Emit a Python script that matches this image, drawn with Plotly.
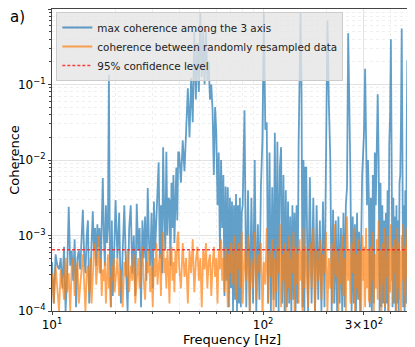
import numpy as np
import plotly.graph_objects as go

# frequency bands (Hz); each band holds 50 bins
bands = [(10, 20), (20, 40), (40, 80), (80, 160), (160, 320), (320, 500)]

# log10 of max coherence among the 3 axis, one list per band
blue_10_20 = [-3.35, -3.9, -3.25, -3.4, -3.45, -3.3, -3.7, -3.15, -4.0, -3.5,
              -2.62, -3.4, -3.2, -3.6, -3.05, -3.95, -3.3, -3.2, -3.45, -3.1,
              -2.66, -3.25, -3.5, -3.0, -2.8, -3.9, -3.6, -3.1, -2.68, -3.2,
              -2.9, -3.4, -2.85, -3.15, -2.9, -3.5, -2.95, -2.24, -3.0, -3.4,
              -2.6, -3.1, -2.9, -0.87, -3.3, -3.95, -2.8, -3.8, -3.45, -2.95]
blue_20_40 = [-2.53, -3.3, -2.7, -3.9, -3.1, -2.6, -3.4, -4.0, -2.9, -2.6,
              -3.5, -3.0, -3.8, -2.58, -3.2, -2.9, -3.95, -2.8, -3.3, -2.75,
              -3.6, -2.37, -3.1, -3.4, -2.7, -3.7, -2.55, -3.2, -2.8, -2.45,
              -2.03, -3.3, -2.6, -3.5, -1.83, -2.7, -3.2, -1.89, -3.0, -2.5,
              -2.53, -3.4, -2.3, -2.9, -2.2, -3.1, -2.35, -2.1, -2.8, -1.9]
blue_40_80 = [-1.9, -2.3, -1.74, -2.15, -1.6, -1.05, -1.7, -0.91, -1.5, -0.3,
              -1.2, -0.45, -1.1, -0.05, -0.9, -0.3, -1.0, -0.28, -0.94, -0.7,
              -1.2, -1.0, -1.34, -2.2, -1.3, -1.64, -2.6, -1.9, -3.2, -2.0,
              -2.9, -2.2, -3.8, -2.35, -3.6, -2.36, -3.95, -2.5, -3.7, -2.55,
              -4.0, -2.6, -3.85, -2.45, -4.0, -2.6, -3.9, -2.5, -3.95, -2.7]
blue_80_160 = [-2.6, -1.34, -3.95, -2.4, -4.0, -2.5, -3.9, -2.0, -4.0, -2.85,
               -3.85, -2.35, -1.74, -0.04, -1.6, -1.5, -3.9, -1.9, -4.0, -2.36,
               -3.85, -1.64, -3.95, -1.76, -4.0, -2.1, -1.83, -3.9, -2.2, -4.0,
               -2.4, -3.95, -2.55, -3.9, -2.75, -4.0, -2.6, -3.85, -2.7, -4.0,
               -2.6, -3.9, -1.8, -0.94, -0.05, -1.1, -3.95, -2.0, -4.0, -2.1]
blue_160_320 = [-2.1, -4.0, -2.23, -3.9, -2.5, -4.0, -2.6, -3.85, -2.8, -4.0,
                -2.55, -3.95, -2.3, -0.15, -1.25, -2.0, -4.0, -2.66, -3.9, -2.8,
                -4.0, -2.75, -3.9, -2.9, -4.0, -2.7, -3.95, -2.6, -2.36, -0.32,
                -1.27, -2.3, -4.0, -2.75, -3.9, -2.85, -4.0, -2.7, -3.85, -2.95,
                -4.0, -2.75, -2.2, -1.9, -1.6, -0.79, -1.9, -2.6, -2.0, -2.5]
blue_320_500 = [-3.95, -2.5, -4.0, -2.2, -3.9, -1.9, -2.6, -1.58, -1.13, -2.0,
                -4.0, -2.3, -3.95, -2.6, -3.9, -2.8, -4.0, -2.7, -3.9, -2.4,
                -4.0, -1.8, -1.4, -0.4, -2.2, -3.95, -2.5, -3.9, -2.75, -4.0,
                -2.6, -3.9, -2.8, -4.0, -2.3, -2.2, -1.5, -0.26, -1.9, -3.95,
                -2.6, -4.0, -2.4, -3.9, -1.7, -0.68, -2.3, -4.0, -1.6, -0.19]

# log10 of coherence between randomly resampled data
orange_10_20 = [-3.5, -3.9, -3.4, -3.7, -4.0, -3.45, -3.6, -3.85, -3.3, -3.75,
                -3.5, -4.0, -3.4, -3.3, -3.8, -3.55, -3.35, -3.9, -3.6, -3.45,
                -3.25, -3.7, -4.0, -3.5, -3.4, -3.75, -3.3, -3.9, -3.55, -3.2,
                -3.1, -3.65, -3.4, -3.0, -3.5, -3.3, -3.8, -3.45, -3.6, -3.35,
                -3.9, -3.5, -3.25, -3.7, -3.55, -3.95, -3.4, -3.6, -3.3, -3.75]
orange_20_40 = [-3.6, -3.3, -3.8, -3.45, -3.95, -3.35, -3.55, -3.2, -3.75, -3.4,
                -3.6, -3.25, -3.9, -3.5, -3.3, -3.7, -3.45, -3.15, -3.6, -3.85,
                -3.35, -3.5, -3.2, -3.75, -3.4, -3.95, -3.3, -3.55, -3.1, -3.65,
                -3.4, -3.25, -3.8, -3.1, -2.95, -3.5, -3.3, -3.7, -3.2, -3.45,
                -3.9, -3.3, -3.15, -3.6, -3.35, -3.75, -3.2, -3.5, -3.05, -2.95]
orange_40_80 = [-3.4, -3.7, -3.1, -3.55, -3.3, -3.9, -3.2, -3.5, -3.05, -3.75,
                -3.35, -3.15, -3.6, -3.3, -3.95, -3.2, -3.45, -3.1, -3.7, -3.35,
                -3.25, -3.8, -3.4, -3.15, -3.55, -3.3, -3.9, -3.2, -3.45, -3.05,
                -3.6, -3.3, -3.75, -3.15, -3.4, -3.95, -3.25, -3.5, -3.1, -3.65,
                -3.3, -3.0, -3.55, -3.85, -3.2, -3.45, -3.1, -3.7, -3.3, -2.95]
orange_80_160 = [-3.9, -3.2, -3.6, -3.0, -4.0, -3.3, -3.7, -2.95, -3.85, -3.25,
                 -3.5, -3.1, -4.0, -3.35, -3.65, -2.9, -3.9, -3.2, -3.55, -3.05,
                 -4.0, -3.3, -3.75, -3.15, -3.5, -2.85, -3.95, -3.25, -3.6, -3.1,
                 -4.0, -3.2, -3.7, -3.0, -3.85, -3.3, -3.5, -2.95, -4.0, -3.15,
                 -3.65, -3.25, -3.9, -3.05, -3.6, -3.2, -4.0, -2.9, -3.7, -3.15]
orange_160_320 = [-3.3, -3.95, -3.1, -3.7, -2.9, -4.0, -3.2, -3.6, -3.05, -3.85,
                  -3.25, -3.5, -2.95, -4.0, -3.3, -3.7, -3.1, -3.9, -2.85, -3.55,
                  -3.2, -4.0, -3.15, -3.65, -3.0, -3.8, -3.3, -4.0, -2.75, -3.6,
                  -3.2, -3.9, -3.1, -3.5, -2.9, -4.0, -3.25, -3.7, -3.05, -3.85,
                  -3.2, -4.0, -3.0, -3.6, -3.15, -3.95, -2.9, -3.7, -3.2, -3.85]
orange_320_500 = [-3.9, -3.15, -3.6, -2.95, -4.0, -3.25, -3.7, -3.05, -3.85, -2.8,
                  -3.5, -3.2, -4.0, -3.1, -3.65, -2.9, -3.95, -3.3, -3.55, -3.0,
                  -4.0, -3.2, -3.75, -2.85, -3.6, -3.15, -3.9, -3.05, -3.5, -3.25,
                  -4.0, -2.9, -3.7, -3.1, -3.85, -3.2, -4.0, -3.0, -3.6, -2.85,
                  -3.8, -3.15, -3.95, -3.05, -3.55, -2.9, -4.0, -3.1, -2.8, -3.0]

confidence_level = 6.5e-4

freq = np.concatenate([np.linspace(lo, hi, 50, endpoint=False) for lo, hi in bands])
blue = 10 ** np.concatenate([blue_10_20, blue_20_40, blue_40_80,
                             blue_80_160, blue_160_320, blue_320_500])
orange = 10 ** np.concatenate([orange_10_20, orange_20_40, orange_40_80,
                               orange_80_160, orange_160_320, orange_320_500])

red = "rgba(255,30,30,0.85)"

fig = go.Figure()

fig.add_trace(go.Scatter(
    x=freq, y=blue, mode="lines",
    name="max coherence among the 3 axis",
    line=dict(color="rgba(31,119,180,0.7)", width=1.8),
))
fig.add_trace(go.Scatter(
    x=freq, y=orange, mode="lines",
    name="coherence between randomly resampled data",
    line=dict(color="rgba(255,127,14,0.7)", width=1.8),
))
# legend entry for the confidence line, the line itself is an hline
fig.add_trace(go.Scatter(
    x=[None], y=[None], mode="lines",
    name="95% confidence level",
    line=dict(color=red, width=1.5, dash="3px,2px"),
))
fig.add_hline(y=confidence_level, line=dict(color=red, width=1.5, dash="3px,2px"),
              layer="above")

ytick_vals = [1e-4, 1e-3, 1e-2, 1e-1, 1]
ytick_text = ["10<sup>\u22124</sup>", "10<sup>\u22123</sup>", "10<sup>\u22122</sup>",
              "10<sup>\u22121</sup>", "10<sup>0</sup>"]
xtick_vals = [10, 100, 300]
xtick_text = ["10<sup>1</sup>", "10<sup>2</sup>", "3\u00d710<sup>2</sup>"]

# the page body keeps its 8px margin, so the figure is 8px smaller than the window
fig.update_layout(
    width=407, height=339,
    margin=dict(l=44, r=3, t=1, b=36),
    paper_bgcolor="white", plot_bgcolor="white",
    font=dict(family="DejaVu Sans", size=12, color="black"),
    showlegend=True,
    legend=dict(
        x=0.012, y=0.99, xanchor="left", yanchor="top",
        bgcolor="rgba(229,229,229,0.8)", bordercolor="#cccccc", borderwidth=1,
        font=dict(size=10.4, color="#222"), itemwidth=30,
    ),
)
# panel label and axis titles
fig.add_annotation(text="a)", xref="paper", yref="paper", x=-0.122, y=0.975,
                   xanchor="left", yanchor="middle", showarrow=False,
                   font=dict(size=15))
fig.add_annotation(text="Frequency [Hz]", xref="paper", yref="paper", x=0.5, y=-0.093,
                   xanchor="center", yanchor="middle", showarrow=False,
                   font=dict(size=13))
fig.add_annotation(text="Coherence", xref="paper", yref="paper", x=-0.106, y=0.5,
                   xanchor="center", yanchor="middle", showarrow=False, textangle=-90,
                   font=dict(size=13))

fig.update_xaxes(
    type="log", range=[1, 2.705], automargin=False,
    tickvals=xtick_vals, ticktext=xtick_text,
    ticks="outside", ticklen=3, tickcolor="#444",
    showline=True, linecolor="#444", linewidth=1, mirror=True,
    showgrid=True, gridcolor="#e3e3e3", gridwidth=1,
    minor=dict(dtick="D1", showgrid=True, gridcolor="#efefef", griddash="dot",
               ticks="outside", ticklen=2, tickcolor="#444"),
    zeroline=False,
)
fig.update_yaxes(
    type="log", range=[-4, 0], automargin=False,
    tickvals=ytick_vals, ticktext=ytick_text,
    ticks="outside", ticklen=3, tickcolor="#444",
    showline=True, linecolor="#444", linewidth=1, mirror=True,
    showgrid=True, gridcolor="#e3e3e3", gridwidth=1,
    minor=dict(dtick="D1", showgrid=True, gridcolor="#efefef", griddash="dot",
               ticks="outside", ticklen=2, tickcolor="#444"),
    zeroline=False,
)

fig.write_html("out.html")
